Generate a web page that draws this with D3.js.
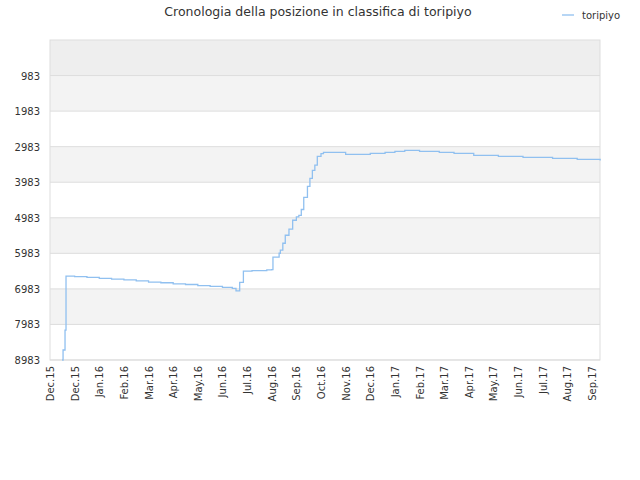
<!DOCTYPE html>
<html><head><meta charset="utf-8">
<script src="https://cdn.jsdelivr.net/npm/d3@7"></script>
<style>body{margin:0;background:#fff;font-family:"DejaVu Sans",sans-serif}</style>
</head><body><svg width="640" height="480"></svg>
<script>
var monthLabels = ["Dec.15","Dec.15","Jan.16","Feb.16","Mar.16","Apr.16","May.16","Jun.16","Jul.16","Aug.16","Sep.16","Oct.16","Nov.16","Dec.16","Jan.17","Feb.17","Mar.17","Apr.17","May.17","Jun.17","Jul.17","Aug.17","Sep.17"];
var yTicks = [983,1983,2983,3983,4983,5983,6983,7983,8983];
// month index (fractional) and ranking position
var monthPos = [0.49,0.53,0.61,0.65,1.0,1.5,2.0,2.5,3.0,3.5,4.0,4.5,5.0,5.5,6.0,6.5,7.0,7.4,7.55,7.7,7.85,8.2,8.8,9.0,9.05,9.3,9.35,9.45,9.55,9.7,9.85,10.0,10.1,10.2,10.3,10.45,10.55,10.65,10.75,10.85,11.0,11.1,11.3,12.0,12.6,13.0,13.6,14.0,14.4,15.0,15.8,16.4,17.2,18.2,19.2,20.4,21.4,22.33];
var rank = [8983,8702,8141,6625,6640,6660,6690,6710,6730,6760,6790,6810,6840,6860,6890,6910,6940,6970,7040,6800,6484,6470,6450,6440,6092,5980,5895,5700,5474,5300,5053,4960,4913,4750,4408,4100,3874,3650,3500,3257,3180,3144,3144,3201,3201,3172,3144,3116,3088,3116,3144,3172,3229,3257,3285,3313,3341,3369,3397];

var svg = d3.select("svg");
var L = 50, R = 600, T = 40, B = 360;
var x = d3.scaleLinear().domain([0, 22 * (600 - 50) / (592 - 50)]).range([L, R]);
var y = d3.scaleLinear().domain([-17, 8983]).range([T, B]);

var bandEdges = [-17].concat(yTicks);
var bandFill = ["#eeeeee","#f3f3f3","#ffffff","#f3f3f3","#ffffff","#f3f3f3","#ffffff","#f3f3f3","#ffffff"];
for (var i = 0; i < bandEdges.length - 1; i++) {
  svg.append("rect").attr("x", L).attr("width", R - L)
    .attr("y", y(bandEdges[i])).attr("height", y(bandEdges[i + 1]) - y(bandEdges[i]))
    .attr("fill", bandFill[i]);
}
yTicks.forEach(function (t) {
  svg.append("line").attr("x1", L).attr("x2", R).attr("y1", y(t)).attr("y2", y(t))
    .attr("stroke", "#dddddd");
});
svg.append("rect").attr("x", L).attr("y", T).attr("width", R - L).attr("height", B - T)
  .attr("fill", "none").attr("stroke", "#dddddd");

svg.selectAll(".yl").data(yTicks).enter().append("text")
  .attr("x", L - 10).attr("y", function (d) { return y(d) + 4; })
  .attr("text-anchor", "end").attr("font-size", 10).attr("fill", "#333").text(function (d) { return d; });

svg.selectAll(".xl").data(monthLabels).enter().append("text")
  .attr("transform", function (d, i) { return "translate(" + (x(i) + 4) + "," + (B + 6) + ") rotate(-90)"; })
  .attr("text-anchor", "end").attr("font-size", 10).attr("fill", "#333").text(function (d) { return d; });

var line = d3.line().x(function (d) { return x(d[0]); }).y(function (d) { return y(d[1]); })
  .curve(d3.curveStepAfter);
svg.append("path").datum(monthPos.map(function (m, i) { return [m, rank[i]]; }))
  .attr("d", line).attr("fill", "none").attr("stroke", "#90c0f0").attr("stroke-width", 1.3);

svg.append("text").attr("x", 318).attr("y", 16).attr("text-anchor", "middle")
  .attr("font-size", 12.5).attr("fill", "#333").text("Cronologia della posizione in classifica di toripiyo");
svg.append("line").attr("x1", 562).attr("x2", 574).attr("y1", 15).attr("y2", 15).attr("stroke", "#90c0f0").attr("stroke-width", 1.3);
svg.append("text").attr("x", 582).attr("y", 19).attr("font-size", 10).attr("fill", "#333").text("toripiyo");
</script></body></html>
